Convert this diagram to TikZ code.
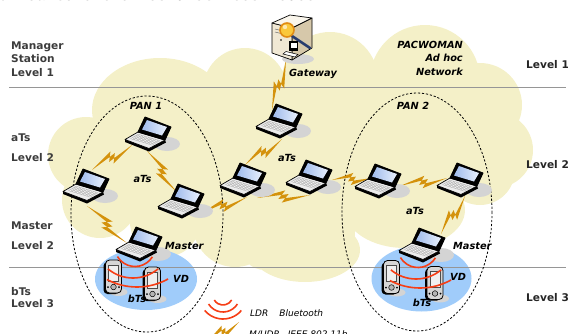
\documentclass[tikz,border=0pt]{standalone}
\usepackage{fontspec}
\newfontfamily\dvsans{DejaVu Sans}
\newfontfamily\dvmono{Liberation Mono}
\usetikzlibrary{calc}

\definecolor{cloudc}{RGB}{244,240,200}
\definecolor{vdblue}{RGB}{160,204,250}
\definecolor{boltc}{RGB}{212,146,12}
\definecolor{wavec}{RGB}{246,62,22}
\definecolor{levelgray}{RGB}{150,150,150}
\definecolor{labgray}{RGB}{60,60,60}
\definecolor{shadowc}{RGB}{212,212,212}
\definecolor{kbc}{RGB}{236,236,236}
\definecolor{scrA}{RGB}{160,188,236}
\definecolor{scrB}{RGB}{232,239,252}
\definecolor{srvfront}{RGB}{240,232,212}
\definecolor{srvside}{RGB}{214,200,170}
\definecolor{srvtop}{RGB}{250,246,236}
\definecolor{lensc}{RGB}{250,200,60}
\definecolor{lensrim}{RGB}{225,140,20}
\definecolor{handlec}{RGB}{40,60,110}
\definecolor{pdagray}{RGB}{214,214,214}
\definecolor{pdascreen}{RGB}{240,240,240}
\definecolor{pdabtn}{RGB}{180,180,180}

% lightning-bolt connector between two named coordinates
\newcommand\zap[2]{%
  \fill[boltc] (#1) -- ($(#1)!0.60!(#2)!2.2pt!90:(#2)$)
    -- ($(#1)!0.46!(#2)!6pt!-90:(#2)$) -- (#2)
    -- ($(#1)!0.40!(#2)!2.2pt!-90:(#2)$)
    -- ($(#1)!0.54!(#2)!6pt!90:(#2)$) -- cycle;}

\tikzset{
  lvl/.style={font=\dvsans\bfseries\fontsize{10.6}{12}\selectfont, text=labgray, inner sep=0, anchor=base west},
  rlvl/.style={font=\dvsans\bfseries\fontsize{10.6}{12}\selectfont, text=black!85, inner sep=0, anchor=base west},
  tag/.style={font=\dvsans\bfseries\itshape\fontsize{9.8}{11}\selectfont, inner sep=0},
  legtext/.style={font=\dvsans\itshape\fontsize{9}{10}\selectfont, inner sep=0, anchor=base west},
  lap/.style={inner sep=0, minimum width=47pt, minimum height=36pt},
  pdabox/.style={inner sep=0, minimum width=17pt, minimum height=33pt},
  levelline/.style={draw=levelgray, line width=1pt},
  panline/.style={draw=black, line width=0.8pt, dash pattern=on 2.2pt off 1.8pt},
  wave/.style={draw=wavec, line width=1.6pt},
  keyline/.style={draw=black!35, line width=0.3pt},
  laptop/.pic={
    \fill[shadowc] (17,9) ellipse[x radius=13, y radius=7];
    \fill[black] (-25,4.5) -- (-1,13.5) -- (15,5) -- (16,7.5) -- (-1,16.5) -- (-25,7) -- cycle;
    \filldraw[fill=kbc, draw=black, line width=0.7pt, line join=round]
      (-12,-3) -- (15,5) -- (-1,13.5) -- (-25,4.5) -- cycle;
    \fill[white] ({-12+27*0.1-13*0.2},{-3+8*0.1+7.5*0.2}) -- ({-12+27*0.9-13*0.2},{-3+8*0.9+7.5*0.2})
      -- ({-12+27*0.9-13*0.78},{-3+8*0.9+7.5*0.78}) -- ({-12+27*0.1-13*0.78},{-3+8*0.1+7.5*0.78}) -- cycle;
    \foreach \t in {0.2,0.345,0.49,0.635,0.78}
      \draw[keyline] ({-12+27*0.1-13*\t},{-3+8*0.1+7.5*\t}) -- ({-12+27*0.9-13*\t},{-3+8*0.9+7.5*\t});
    \foreach \k in {0,...,12}
      \draw[keyline] ({-12+27*(0.1+0.0667*\k)-13*0.2},{-3+8*(0.1+0.0667*\k)+7.5*0.2})
        -- ({-12+27*(0.1+0.0667*\k)-13*0.78},{-3+8*(0.1+0.0667*\k)+7.5*0.78});
    \filldraw[fill=black, draw=black, line width=0.9pt, line join=round]
      (-12,-3) -- (15,5) -- (21,-8) -- (-5,-18) -- cycle;
    \shade[left color=scrA, right color=scrB]
      (-8,-5.5) -- (12,0.5) -- (17,-8) -- (-3,-15) -- cycle;
  },
  server/.pic={
    \fill[shadowc] (8,24) ellipse[x radius=16, y radius=5];
    \filldraw[fill=srvside, draw=black, line width=0.7pt, line join=round]
      (2,-7) -- (22,-17) -- (22,13) -- (2,25) -- cycle;
    \filldraw[fill=srvfront, draw=black, line width=0.7pt, line join=round]
      (-18,-12) -- (2,-7) -- (2,25) -- (-18,18) -- cycle;
    \filldraw[fill=srvtop, draw=black, line width=0.7pt, line join=round]
      (-18,-12) -- (0,-20) -- (22,-17) -- (2,-7) -- cycle;
    \draw[black!55, line width=0.5pt] (-15,-6) -- (-1,-2.5) (-15,-3) -- (-1,0.5);
    \fill[black] (-9,5) circle[radius=0.9];
    \draw[handlec, line width=2.6pt, line cap=round] (2,1) -- (20,13);
    \filldraw[fill=lensc, draw=lensrim, line width=1.6pt] (-3,-5) circle[radius=7];
    \fill[white, opacity=0.6] (-5,-8) circle[radius=2.2];
    \fill[black] (-1,6) rectangle (8,16);
    \fill[white] (0.5,7.5) rectangle (6.5,13);
    \filldraw[fill=white, draw=black, line width=0.5pt] (-7,19) -- (5,22) -- (8,19.5) -- (-4,16.5) -- cycle;
  },
  pda/.pic={
    \fill[shadowc] (5,15) ellipse[x radius=9, y radius=4];
    \fill[black, rounded corners=4pt] (-10,-15) rectangle (6,17);
    \filldraw[fill=pdagray, draw=black, line width=0.8pt, rounded corners=4pt] (-8,-17) rectangle (8,16);
    \filldraw[fill=pdascreen, draw=black!70, line width=0.5pt] (-5,-12) rectangle (5,4);
    \filldraw[fill=pdabtn, draw=black, line width=0.5pt] (0,10) circle[radius=2.8];
    \fill[black] (-5.5,10) circle[radius=1] (5.5,10) circle[radius=1];
  }
}

\begin{document}
\begin{tikzpicture}[x=1pt, y=-1pt]
\useasboundingbox (0,0) rectangle (568,333);
\clip (0,0) rectangle (568,333);

% running text of the page above the figure
\node[anchor=base east, inner sep=0, font=\dvmono\fontsize{15.5}{16}\selectfont] (pagetext) at (325,0) {un salto entre los distintos nodos.};

% ad hoc network cloud
\fill[cloudc] (86,155) -- (100,200) -- (165,222) -- (235,225) -- (310,232) -- (405,210)
  -- (480,170) -- (495,150) -- (480,105) -- (425,80) -- (330,80) -- (245,90) -- (160,110) -- cycle;
\fill[cloudc] (86,155) circle[radius=38] (100,200) circle[radius=38]
  (160,110) ellipse[x radius=68, y radius=52] (245,90) circle[radius=42]
  (330,80) circle[radius=48] (425,80) circle[radius=55] (480,105) circle[radius=42]
  (495,150) circle[radius=38] (480,170) circle[radius=35]
  (405,210) ellipse[x radius=60, y radius=38] (310,232) circle[radius=45]
  (305,250) ellipse[x radius=55, y radius=32] (265,245) circle[radius=25]
  (235,225) circle[radius=42] (165,222) circle[radius=35];

% virtual device areas
\fill[vdblue] (146,279) ellipse[x radius=51, y radius=31];
\fill[vdblue] (421.5,278.5) ellipse[x radius=50, y radius=33];

% level separators
\draw[levelline] (9,87) -- (566,87);
\draw[levelline] (9,267) -- (566,267);

% personal area networks
\draw[panline] (147,214) ellipse[x radius=76, y radius=118];
\draw[panline] (417,212) ellipse[x radius=75, y radius=119];

% device placeholders
\node[inner sep=0, minimum width=40pt, minimum height=45pt] (gw) at (290,35) {};
\node[lap] (p1t) at (150,135) {};
\node[lap] (p1l) at (88,187) {};
\node[lap] (p1m) at (183,202) {};
\node[lap] (m1) at (141,245) {};
\node[lap] (ct) at (281,122) {};
\node[lap] (cl) at (245,181) {};
\node[lap] (c3) at (311,178) {};
\node[lap] (p2l) at (380,182) {};
\node[lap] (p2r) at (462,181) {};
\node[lap] (m2) at (424,246) {};
\node[pdabox] (d1a) at (113.5,277) {};
\node[pdabox] (d1b) at (152.5,284) {};
\node[pdabox] (d2a) at (391.5,277.5) {};
\node[pdabox] (d2b) at (435,283.5) {};

% bolt end points
\path (gw.center) +(-4,25) coordinate (za1)  (ct.center) +(-9,-12) coordinate (za2);
\path (ct.center) +(1,17) coordinate (zb1)   (cl.center) +(0,-16) coordinate (zb2);
\path (cl.center) +(2,16) coordinate (zc1)   (p1m.center) +(17,12) coordinate (zc2);
\path (cl.center) +(12,17) coordinate (zd1)  (c3.center) +(-1,17) coordinate (zd2);
\path (c3.center) +(21,2) coordinate (ze1)   (p2l.center) +(-8,-4) coordinate (ze2);
\path (p2l.center) +(20,4) coordinate (zf1)  (p2r.center) +(-15,-3) coordinate (zf2);
\path (p2r.center) +(3,15) coordinate (zg1)  (m2.center) +(17,-12) coordinate (zg2);
\path (p1t.center) +(-18,10) coordinate (zh1) (p1l.center) +(4,-17) coordinate (zh2);
\path (p1t.center) +(-3,16) coordinate (zi1)  (p1m.center) +(-6,-10) coordinate (zi2);
\path (p1l.center) +(-1,19) coordinate (zj1)  (m1.center) +(-14,-2) coordinate (zj2);
\coordinate (lz1) at (208,341);
\coordinate (lz2) at (239,322);

% wireless hops
\zap{za1}{za2}
\zap{zb1}{zb2}
\zap{zc1}{zc2}
\zap{zd1}{zd2}
\zap{ze1}{ze2}
\zap{zf1}{zf2}
\zap{zg1}{zg2}
\zap{zh1}{zh2}
\zap{zi1}{zi2}
\zap{zj1}{zj2}
\zap{lz1}{lz2}

% devices
\pic at (gw.center) {server};
\foreach \n in {p1t,p1l,p1m,m1,ct,cl,c3,p2l,p2r,m2}
  \pic at (\n.center) {laptop};
\foreach \n in {d1a,d1b,d2a,d2b}
  \pic at (\n.center) {pda};

% Bluetooth waves from the masters
\foreach \n in {m1,m2} {
  \draw[wave] ($(\n.center)+(-6,1)$) ++(32:20.5) arc[start angle=32, end angle=149, radius=20.5];
  \draw[wave] ($(\n.center)+(-8,-6)$) ++(50:39) arc[start angle=50, end angle=130, radius=39];
  \draw[wave] ($(\n.center)+(-4,-22)$) ++(61:64) arc[start angle=61, end angle=118, radius=64];
}
% legend waves
\coordinate (lw) at (223,295);
\draw[wave] (lw) ++(30:10) arc[start angle=30, end angle=150, radius=10];
\draw[wave] (lw) ++(32:17) arc[start angle=32, end angle=148, radius=17];
\draw[wave] (lw) ++(40:24) arc[start angle=40, end angle=140, radius=24];

% level labels
\node[lvl] (t1) at (11,49.3) {Manager};
\node[lvl] (t2) at (11,62.7) {Station};
\node[lvl] (t3) at (11,76) {Level 1};
\node[lvl] (t4) at (11,141.7) {aTs};
\node[lvl] (t5) at (11,161.7) {Level 2};
\node[lvl] (t6) at (11,229) {Master};
\node[lvl] (t7) at (11,249) {Level 2};
\node[lvl] (t8) at (11,295) {bTs};
\node[lvl] (t9) at (11,307.7) {Level 3};
\node[rlvl] (r1) at (526,68.3) {Level 1};
\node[rlvl] (r2) at (526,168.3) {Level 2};
\node[rlvl] (r3) at (526,301) {Level 3};

% network labels
\node[tag, anchor=base west] (gwl) at (289,76) {Gateway};
\node[tag, anchor=base east] (n1) at (463,48.7) {PACWOMAN};
\node[tag, anchor=base east] (n2) at (463,61.7) {Ad hoc};
\node[tag, anchor=base east] (n3) at (463,75.3) {Network};
\node[tag, anchor=base] (pan1) at (146,109) {PAN 1};
\node[tag, anchor=base] (pan2) at (413,109) {PAN 2};
\node[tag, anchor=base] (a1) at (142.5,182.3) {aTs};
\node[tag, anchor=base] (a2) at (287,161.7) {aTs};
\node[tag, anchor=base] (a3) at (415,214.3) {aTs};
\node[tag, anchor=base west] (ml1) at (165,249) {Master};
\node[tag, anchor=base west] (ml2) at (453,249) {Master};
\node[tag, anchor=base west] (vd1) at (173,282.7) {VD};
\node[tag, anchor=base west] (vd2) at (450,280.7) {VD};
\node[tag, anchor=base] (b1) at (137,302.7) {bTs};
\node[tag, anchor=base] (b2) at (422,306.7) {bTs};

% legend
\node[legtext] (leg1) at (250,316.7) {LDR\hspace{11pt}Bluetooth};
\node[legtext] (leg2) at (249,337) {M/UDR\hspace{8pt}IEEE 802.11b};
\end{tikzpicture}
\end{document}
